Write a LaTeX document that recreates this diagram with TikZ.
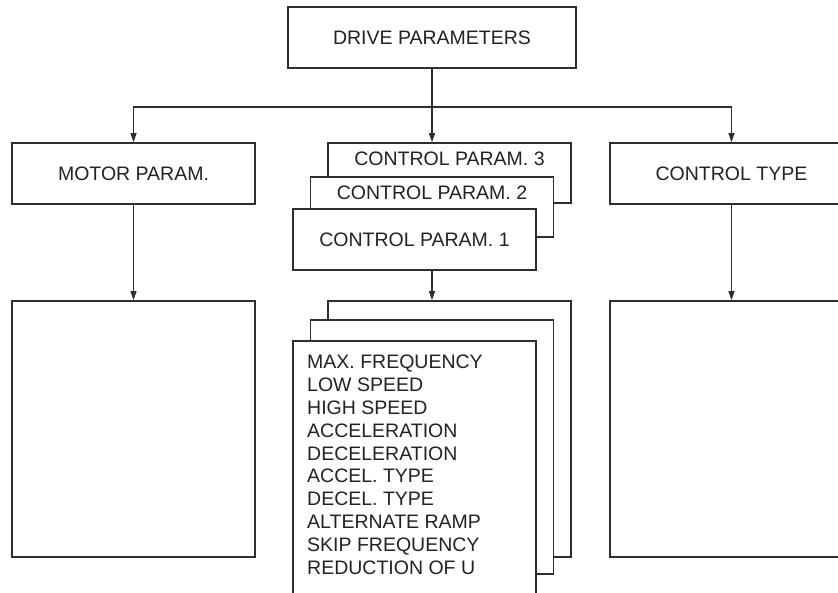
\documentclass[tikz,border=0pt]{standalone}
\usepackage{fontspec}
\setmainfont{Liberation Sans}
\usetikzlibrary{arrows.meta, positioning, calc}
\definecolor{inkLine}{HTML}{2E2E2E}
\definecolor{inkText}{HTML}{222222}
\tikzset{
  pbox/.style={draw=inkLine, line width=1.6pt, fill=white, minimum width=243pt,
               minimum height=61pt, inner sep=0pt, font=\fontsize{19.5}{22.8}\selectfont, text=inkText},
  ptext/.style={inner sep=0pt, font=\fontsize{19.5}{22.8}\selectfont, text=inkText},
  link/.style={draw=inkLine, line width=1.1pt, -{Triangle[length=9pt, width=6pt]}},
}
\begin{document}
\begin{tikzpicture}[x=1pt, y=-1pt]
\useasboundingbox (0,0) rectangle (838,593);
\clip (0,0) rectangle (838,593);
% top level
\node[pbox, minimum width=288pt] (drive) at (432,37.5) {DRIVE PARAMETERS};
\coordinate (bus) at (432,107);
% second row
\node[pbox] (motor) at (133.5,173.5) {MOTOR PARAM.};
\node[pbox] (ctype) at (731.5,173.5) {CONTROL TYPE};
\node[pbox, minimum height=60pt] (cp3) at (449.5,173) {};
\node[ptext] (t3) at ($(cp3.north)+(0,17)$) {CONTROL PARAM. 3};
\node[pbox, minimum height=60pt] (cp2) at (432,207) {};
\node[ptext] (t2) at ($(cp2.north)+(0,17)$) {CONTROL PARAM. 2};
\node[pbox] (cp1) at (414.5,239.5) {CONTROL PARAM. 1};
% third row
\node[pbox, minimum height=256pt] (mbox) at (133.5,429) {};
\node[pbox, minimum height=256pt] (tbox) at (731.5,429) {};
\node[pbox, minimum height=256pt] (lp3) at (449.5,429) {};
\node[pbox, minimum height=254pt] (lp2) at (432,447) {};
\node[pbox, minimum height=256pt] (lp1) at (414.5,469) {};
\node[ptext, anchor=north west, align=left] (list) at (307,355) {MAX. FREQUENCY\\LOW SPEED\\HIGH SPEED\\ACCELERATION\\DECELERATION\\ACCEL. TYPE\\DECEL. TYPE\\ALTERNATE RAMP\\SKIP FREQUENCY\\REDUCTION OF U};
% connectors
\draw[link] (drive.south) -- (drive.south |- cp3.north);
\draw[link, {Triangle[length=9pt, width=6pt]}-{Triangle[length=9pt, width=6pt]}] (motor.north) |- (bus) -| (ctype.north);
\draw[link] (motor.south) -- (mbox.north);
\draw[link] (ctype.south) -- (tbox.north);
\draw[link] (cp2.center |- cp1.south) -- (cp2.center |- lp3.north);
\end{tikzpicture}
\end{document}
